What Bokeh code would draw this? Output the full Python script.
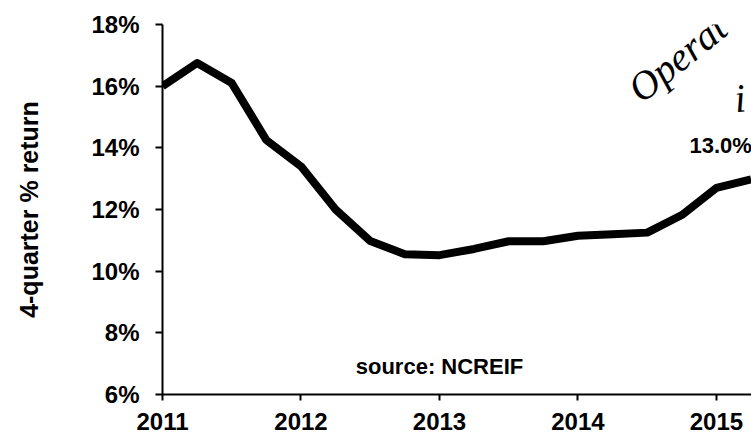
from bokeh.plotting import figure
from bokeh.models import Range1d, FixedTicker, PrintfTickFormatter
from bokeh.core.properties import value
from bokeh.embed import file_html
from bokeh.resources import INLINE

# quarterly data (decimal year) - NCREIF 4-quarter % return
quarters = [2011.0, 2011.25, 2011.5, 2011.75,
            2012.0, 2012.25, 2012.5, 2012.75,
            2013.0, 2013.25, 2013.5, 2013.75,
            2014.0, 2014.25, 2014.5, 2014.75,
            2015.0, 2015.25]
returns = [16.0, 16.75, 16.1, 14.25,
           13.4, 12.0, 10.98, 10.55,
           10.52, 10.72, 10.97, 10.97,
           11.15, 11.2, 11.25, 11.82,
           12.7, 12.98]
x_ticks = [2011, 2012, 2013, 2014, 2015]
y_ticks = [6, 8, 10, 12, 14, 16, 18]
source_note = "source: NCREIF"
hand_words = ["Operat", "i"]

FONT = "Liberation Sans"

p = figure(width=751, height=438, output_backend="svg", toolbar_location=None,
           x_range=Range1d(2011, 2015.253), y_range=Range1d(6, 18),
           min_border_left=162, min_border_right=0, min_border_top=24,
           min_border_bottom=44)
p.outline_line_color = None
p.xgrid.visible = False
p.ygrid.visible = False
p.background_fill_color = "white"
p.border_fill_color = "white"

p.line(quarters, returns, line_width=8, line_color="black", line_join="round")

# value label for last point
p.text(x=[2015.03], y=[14.07], text=[f"{returns[-1]:.1f}%"],
       text_font=value(FONT), text_font_style="bold", text_font_size="22px",
       text_align="center", text_baseline="alphabetic", text_color="black")

# source note
p.text(x=[2013.0], y=[6.91], text=[source_note],
       text_font=value(FONT), text_font_style="bold", text_font_size="22px",
       text_align="center", text_baseline="alphabetic", text_color="black")

# handwritten annotation
p.text(x=[2014.4], y=[15.75], text=[hand_words[0]],
       text_font=value("Liberation Serif"), text_font_style="italic",
       text_font_size="40px", angle=0.68,
       text_align="left", text_baseline="alphabetic", text_color="black")
p.text(x=[2015.13], y=[15.59], text=[hand_words[1]],
       text_font=value("Liberation Serif"), text_font_style="italic",
       text_font_size="40px", angle=0.1,
       text_align="left", text_baseline="alphabetic", text_color="black")

for ax in (p.xaxis[0], p.yaxis[0]):
    ax.axis_line_color = "black"
    ax.axis_line_width = 2
    ax.major_tick_line_color = "black"
    ax.major_tick_line_width = 2
    ax.minor_tick_line_color = None
    ax.major_tick_in = 0
    ax.major_label_text_font = FONT
    ax.major_label_text_font_style = "bold"
    ax.major_label_text_color = "black"

p.xaxis.ticker = FixedTicker(ticks=x_ticks)
p.xaxis.major_tick_out = 6
p.xaxis.major_label_standoff = 12
p.xaxis.major_label_text_font_size = "24px"

p.yaxis.ticker = FixedTicker(ticks=y_ticks)
p.yaxis.formatter = PrintfTickFormatter(format="%d%%")
p.yaxis.major_tick_out = 7
p.yaxis.major_label_standoff = 16
p.yaxis.major_label_text_font_size = "24px"
p.yaxis.axis_label = "4-quarter % return"
p.yaxis.axis_label_text_font = FONT
p.yaxis.axis_label_text_font_style = "bold"
p.yaxis.axis_label_text_font_size = "25px"
p.yaxis.axis_label_text_color = "black"
p.yaxis.axis_label_standoff = 45

open("out.html", "w").write(file_html(p, INLINE))
